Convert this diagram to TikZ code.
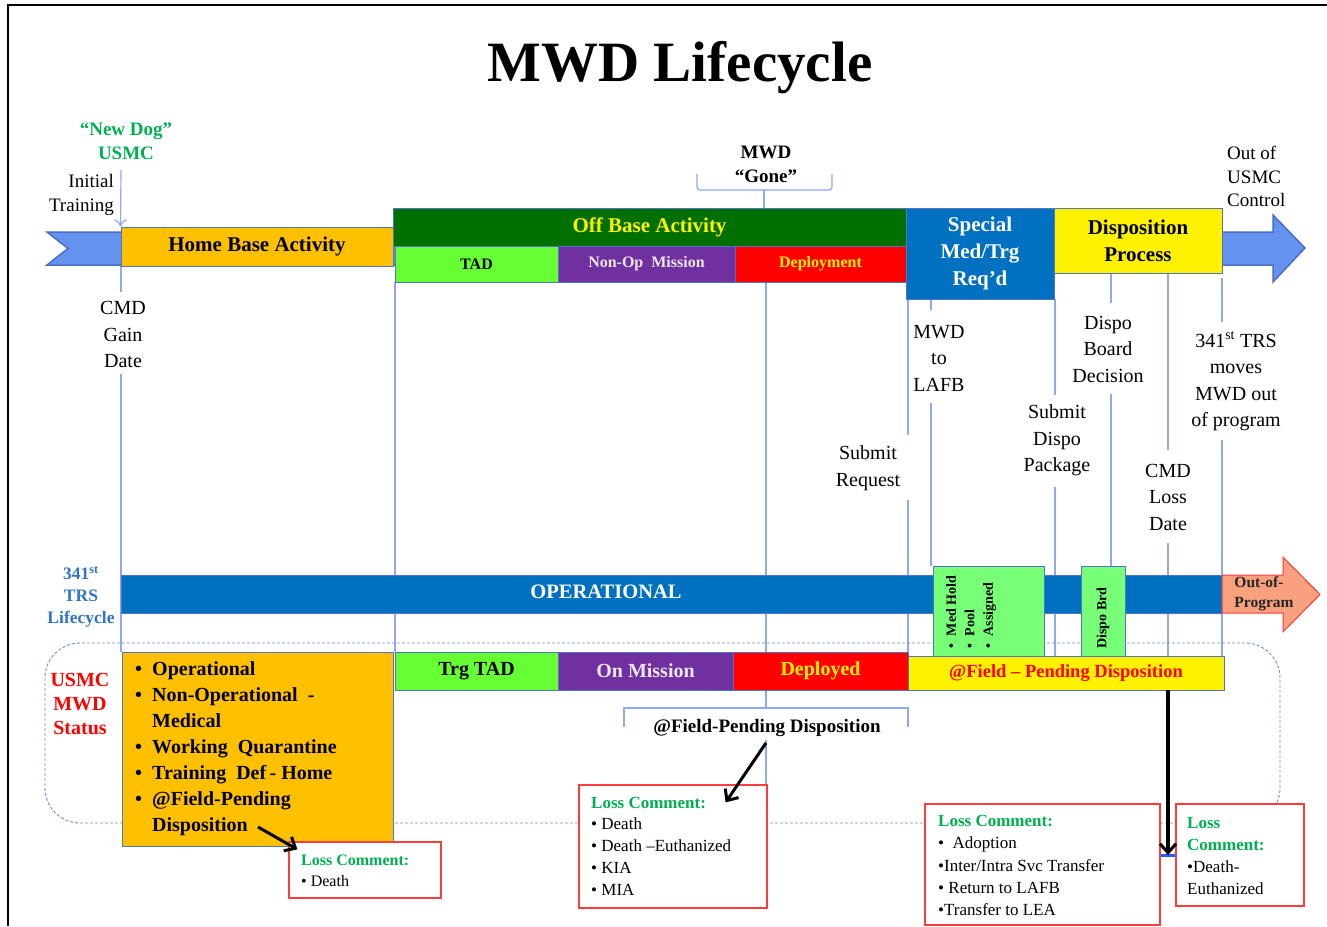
\documentclass[tikz,border=0pt]{standalone}
\usepackage{fontspec}
\setmainfont{Liberation Serif}
\usetikzlibrary{arrows.meta}
\definecolor{lb}{HTML}{8EA9F2}
\definecolor{dashc}{HTML}{6F8CCB}
\definecolor{edge}{HTML}{4F74C8}
\definecolor{chev}{HTML}{6393EE}
\definecolor{chevedge}{HTML}{4A6FC4}
\definecolor{orng}{HTML}{FFC000}
\definecolor{dgreen}{HTML}{007000}
\definecolor{lime}{HTML}{66FF33}
\definecolor{purp}{HTML}{7030A0}
\definecolor{mblue}{HTML}{0070C0}
\definecolor{ngreen}{HTML}{00B050}
\definecolor{tblue}{HTML}{2E75C6}
\definecolor{mgreen}{HTML}{77FF77}
\definecolor{salmon}{HTML}{F9A07E}
\definecolor{lred}{HTML}{FF3B3B}
\definecolor{lav}{HTML}{EDE6F5}
\definecolor{brightblue}{HTML}{1F5FFF}
\newcommand\myfs[2]{\fontsize{#1}{#2}\selectfont}
\begin{document}
\begin{tikzpicture}[x=1pt,y=-1pt,
  bx/.style={draw=edge, line width=1pt, inner sep=0pt, align=center},
  tl/.style={draw=lb, line width=1.2pt},
  lbl/.style={align=center, inner sep=0pt, font=\myfs{20}{26.5}},
  lossbox/.style={draw=lred, line width=1.2pt, fill=white, inner sep=0pt},
  losstxt/.style={anchor=west, align=left, inner sep=0pt, font=\myfs{17}{21.8}},
  bk/.style={draw=black, line width=3pt, -{Straight Barb[length=9pt,width=16pt,line width=3pt]}}]
\useasboundingbox (0,0) rectangle (1327,926);
% frame
\draw[line width=1.5pt] (1327,5) -- (8,5) -- (8,926);
% title
\node[font=\bfseries\myfs{57}{60}] (title) at (680,68) {MWD Lifecycle};

% light timeline markers
\draw[tl] (121,266) -- (121,292);
\draw[tl] (121,374) -- (121,652);
\draw[tl] (395,282) -- (395,652);
\draw[tl] (766,282) -- (766,652);
\draw[tl] (908,299) -- (908,435);
\draw[tl] (908,500) -- (908,656);
\draw[tl] (931,299) -- (931,310);
\draw[tl] (931,403) -- (931,566);
\draw[tl] (1055,299) -- (1055,395);
\draw[tl] (1055,487) -- (1055,656);
\draw[tl] (1111,273) -- (1111,303);
\draw[tl] (1111,394) -- (1111,566);
\draw[tl] (1168,273) -- (1168,450);
\draw[tl] (1168,543) -- (1168,656);
\draw[tl] (1222,278) -- (1222,322);
\draw[tl] (1222,440) -- (1222,656);
% MWD Gone brace
\draw[tl, rounded corners=3pt] (697,174) |- (764,190) -| (832,174);
\draw[tl] (764,190) -- (764,208);
% @Field bracket
\draw[tl] (624,727) |- (908,708) -- (908,727);
\draw[tl] (766,690) -- (766,708);
\draw[tl] (766,740) -- (766,785);

% dashed status region
\draw[dashc, line width=0.9pt, dash pattern=on 3pt off 2pt, rounded corners=35pt] (45,643) rectangle (1280,823);

% big chevron arrow
\draw[fill=chev, draw=chevedge, line width=1.5pt] (47,232) -- (1273,232) -- (1273,215) -- (1305,248) -- (1273,282) -- (1273,265) -- (47,265) -- (68,248.5) -- cycle;

% top activity boxes
\node[bx, fill=orng, minimum width=272pt, minimum height=39pt, font=\bfseries\myfs{21}{25}] (home) at (257,246.5) {Home Base Activity};
\node[bx, fill=dgreen, text=yellow, minimum width=513pt, minimum height=38pt, font=\bfseries\myfs{21}{25}] (offbase) at (649.5,227) {Off Base Activity};
\node[bx, fill=lime, minimum width=163pt, minimum height=36pt, font=\bfseries\myfs{16}{20}] (tad) at (476.5,264) {TAD};
\node[bx, fill=purp, text=lav, minimum width=177pt, minimum height=36pt, font=\bfseries\myfs{16}{20}] (nonop) at (646.5,264) {Non-Op\ \ Mission};
\node[bx, fill=red, text=yellow, minimum width=171pt, minimum height=36pt, font=\bfseries\myfs{16}{20}] (deploy) at (820.5,264) {Deployment};
\node[bx, fill=mblue, text=white, minimum width=148pt, minimum height=91pt, font=\bfseries\myfs{21}{27}] (special) at (980,253.5) {Special\\Med/Trg\\Req’d};
\node[bx, fill=yellow, minimum width=168pt, minimum height=65pt, font=\bfseries\myfs{21}{27}] (dispo) at (1138,240.5) {Disposition\\Process};

% top labels
\node[align=center, inner sep=0pt, text=ngreen, font=\bfseries\myfs{19}{24}] (newdog) at (126,141) {“New Dog”\\USMC};
\node[align=right, anchor=east, inner sep=0pt, font=\myfs{19}{24}] (initial) at (114,195) {Initial\\Training};
\draw[tl, -{To[length=7pt,width=13pt]}] (121,170) -- (home.north west);
\node[lbl] (cmdgain) at (123,334.5) {CMD\\Gain\\Date};
\node[align=center, inner sep=0pt, font=\bfseries\myfs{19}{24}] (gone) at (766,164) {MWD\\“Gone”};
\node[align=left, anchor=west, inner sep=0pt, font=\myfs{19}{23.5}] (outof) at (1227,176.5) {Out of\\USMC\\Control};
\node[lbl] (submitreq) at (868,468) {Submit\\Request};
\node[lbl] (tolafb) at (939,358) {MWD\\to\\LAFB};
\node[lbl] (submitpkg) at (1057,440.5) {Submit\\Dispo\\Package};
\node[lbl] (boarddec) at (1108,349) {Dispo\\Board\\Decision};
\node[lbl] (lossdate) at (1168,497) {CMD\\Loss\\Date};
\node[lbl] (moves) at (1236,381.5) {341\textsuperscript{st} TRS\\moves\\MWD out\\of program};

% operational band
\node[draw=edge, line width=0.8pt, fill=mblue, minimum width=1101pt, minimum height=38pt, inner sep=0pt] (oper) at (671.5,594) {};
\node[text=white, inner sep=0pt, font=\bfseries\myfs{20.5}{24}] (operlbl) at (606,592) {OPERATIONAL};
\draw[fill=salmon, draw=lred, line width=1pt] (1222,575) -- (1283,575) -- (1283,557) -- (1320,594.5) -- (1283,632) -- (1283,613) -- (1222,613) -- cycle;
\node[align=left, inner sep=0pt, text=black!85, font=\bfseries\myfs{15.5}{20}] (oop) at (1264,594) {Out-of-\\Program};
\node[bx, fill=mgreen, line width=0.8pt, minimum width=111pt, minimum height=93pt] (medhold) at (988.5,612.5) {};
\node[rotate=90, align=left, inner sep=0pt, font=\bfseries\myfs{14}{18.5}] (medtxt) at (971,612) {\textbullet\ \ Med Hold\\\textbullet\ \ Pool\\\textbullet\ \ Assigned};
\node[bx, fill=mgreen, line width=0.8pt, minimum width=44pt, minimum height=93pt] (dispobrd) at (1103,612.5) {};
\node[rotate=90, inner sep=0pt, font=\bfseries\myfs{14}{18}] (dispobrdtxt) at (1103,618) {Dispo Brd};
\node[align=center, inner sep=0pt, text=tblue, font=\bfseries\myfs{17.5}{22}] (trs) at (81,597) {341\textsuperscript{st}\\TRS\\Lifecycle};

% status row
\node[align=center, inner sep=0pt, text=red, font=\bfseries\myfs{20}{24}] (usmcstatus) at (80,704) {USMC\\MWD\\Status};
\node[bx, fill=orng, minimum width=271pt, minimum height=194pt] (status) at (257.5,749) {};
\node[anchor=west, align=left, inner sep=0pt, font=\bfseries\myfs{20}{26}] (statuslist) at (135,749) {\textbullet\ \ Operational\\\textbullet\ \ Non-Operational\ \ -\\\phantom{\textbullet\ \ }Medical\\\textbullet\ \ Working\ \ Quarantine\\\textbullet\ \ Training\ \ Def\,- Home\\\textbullet\ \ @Field-Pending\\\phantom{\textbullet\ \ }Disposition};
\node[bx, fill=lime, minimum width=163pt, minimum height=38pt, font=\bfseries\myfs{20}{24}] (trgtad) at (476.5,671) {Trg TAD};
\node[bx, fill=purp, text=lav, minimum width=175pt, minimum height=38pt, font=\bfseries\myfs{20}{24}] (onmis) at (645.5,671) {On Mission};
\node[bx, fill=red, text=yellow, minimum width=175pt, minimum height=38pt, font=\bfseries\myfs{20}{24}] (deployed) at (820.5,671) {Deployed};
\node[bx, fill=yellow, text=red, minimum width=316pt, minimum height=34pt, font=\bfseries\myfs{18.5}{22}] (field) at (1066,673) {@Field -- Pending Disposition};
\node[inner sep=0pt, font=\bfseries\myfs{19}{23}] (fieldlbl) at (767,728) {@Field-Pending Disposition};

% loss comment boxes
\node[lossbox, minimum width=152pt, minimum height=56pt] (loss1) at (365,870) {};
\node[losstxt, font=\myfs{16}{21.5}] (loss1txt) at (301,871) {\textcolor{ngreen}{\bfseries Loss Comment:}\\\textbullet\ Death};
\node[lossbox, minimum width=188pt, minimum height=123pt] (loss2) at (673,846.5) {};
\node[losstxt] (loss2txt) at (591,846) {\textcolor{ngreen}{\bfseries Loss Comment:}\\\textbullet\ Death\\\textbullet\ Death --Euthanized\\\textbullet\ KIA\\\textbullet\ MIA};
\node[lossbox, minimum width=235pt, minimum height=121pt] (loss3) at (1042.5,864.5) {};
\node[losstxt, font=\myfs{17}{22.2}] (loss3txt) at (938,865.5) {\textcolor{ngreen}{\bfseries Loss Comment:}\\\textbullet\ \ Adoption\\\textbullet Inter/Intra Svc Transfer\\\textbullet\ Return to LAFB\\\textbullet Transfer to LEA};
\node[lossbox, minimum width=128pt, minimum height=102pt] (loss4) at (1240,855) {};
\node[losstxt, font=\myfs{17}{22}] (loss4txt) at (1187,856) {\textcolor{ngreen}{\bfseries Loss}\\\textcolor{ngreen}{\bfseries Comment:}\\\textbullet Death-\\Euthanized};

% black arrows
\coordinate (a1s) at (258,827);
\draw[bk] (a1s) -- ([shift={(9,8)}]loss1.north west);
\draw[bk] (fieldlbl.south) ++(-1,6) -- ([shift={(-42,18)}]loss2.north east);
\coordinate (a3s) at (1168,690);
\coordinate (a3e) at (1168,855);
\draw[brightblue, line width=3pt] (loss3.east |- a3e) -- (loss4.west |- a3e);
\draw[bk, line width=3.6pt] (a3s) -- (a3e);
\end{tikzpicture}
\end{document}
